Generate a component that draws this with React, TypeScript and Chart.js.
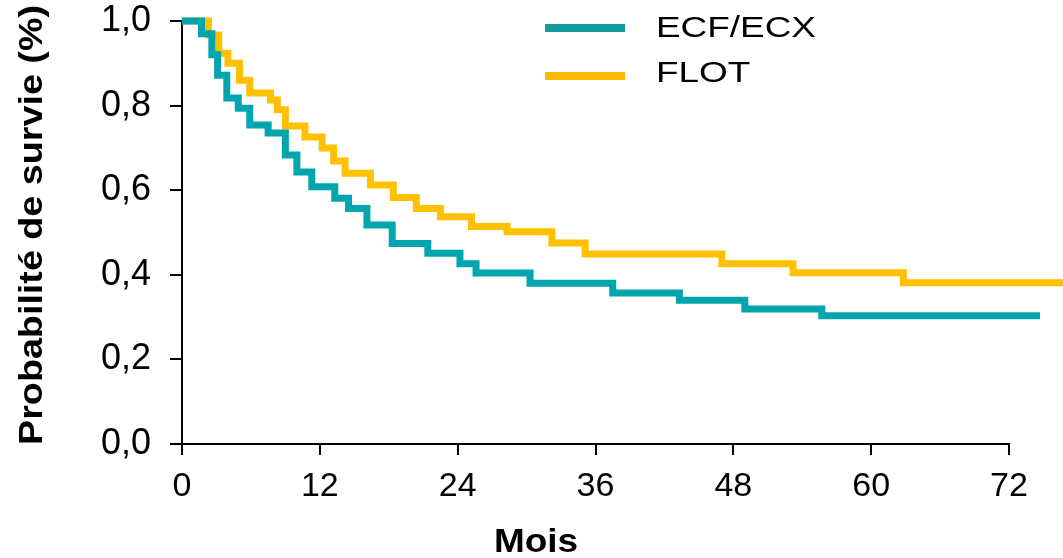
import React, { useEffect, useRef } from 'react';
import { Chart, registerables } from 'chart.js';

Chart.register(...registerables);

// ---- Data ----
const seriesNames = ['ECF/ECX', 'FLOT'];
const ecfMonths = [0, 1.7, 2.6, 3.1, 3.9, 4.9, 5.9, 7.5, 9.0, 10.0, 11.3, 13.3, 14.5, 16.1, 18.3, 21.4, 24.2, 25.6, 30.3, 37.5, 43.3, 49.0, 55.7, 74.7];
const ecfSurvival = [1.0, 0.97, 0.92, 0.872, 0.818, 0.794, 0.754, 0.735, 0.683, 0.643, 0.608, 0.581, 0.557, 0.518, 0.474, 0.451, 0.426, 0.404, 0.38, 0.357, 0.34, 0.319, 0.303, 0.303];
const flotMonths = [0, 2.3, 3.2, 4.0, 5.0, 5.9, 7.7, 8.3, 9.0, 10.7, 12.2, 13.2, 14.2, 16.4, 18.4, 20.4, 22.5, 25.2, 28.3, 32.2, 35.1, 47.0, 53.2, 62.8, 76.7];
const flotSurvival = [1.0, 0.967, 0.924, 0.9, 0.86, 0.83, 0.813, 0.79, 0.752, 0.726, 0.7, 0.669, 0.64, 0.612, 0.583, 0.557, 0.537, 0.514, 0.502, 0.475, 0.449, 0.426, 0.405, 0.381, 0.381];
const xTickValues = [0, 12, 24, 36, 48, 60, 72];
const yTickValues = [0, 0.2, 0.4, 0.6, 0.8, 1.0];
const xAxisTitle = 'Mois';
const yAxisTitle = 'Probabilité de survie (%)';

const TEAL = '#00A5AD';
const GOLD = '#FFC000';
const FONT = "'Liberation Sans', Arial, sans-serif";

function stretchedText(ctx: CanvasRenderingContext2D, text: string, x: number, y: number, font: string, sx: number, align: CanvasTextAlign, rot = 0) {
  ctx.save();
  ctx.translate(x, y);
  ctx.rotate(rot);
  ctx.scale(sx, 1);
  ctx.font = font;
  ctx.fillStyle = '#000';
  ctx.textAlign = align;
  ctx.textBaseline = 'alphabetic';
  ctx.fillText(text, 0, 0);
  ctx.restore();
}

const decorPlugin = {
  id: 'decor',
  beforeDatasetsDraw(chart: any) {
    const ctx = chart.ctx as CanvasRenderingContext2D;
    const xs = chart.scales.x;
    const ys = chart.scales.y;
    const y0 = ys.getPixelForValue(0);
    ctx.save();
    ctx.strokeStyle = '#000';
    ctx.lineWidth = 2;
    ctx.beginPath();
    ctx.moveTo(chart.chartArea.left - 1, y0);
    ctx.lineTo(xs.getPixelForValue(xTickValues[xTickValues.length - 1]) + 1, y0);
    ctx.stroke();
    ctx.restore();
  },
  afterDraw(chart: any) {
    const ctx = chart.ctx as CanvasRenderingContext2D;
    // axis titles
    stretchedText(ctx, xAxisTitle, 536, 552, `bold 33px ${FONT}`, 1.12, 'center');
    stretchedText(ctx, yAxisTitle, 42, 225, `bold 32.5px ${FONT}`, 1.16, 'center', -Math.PI / 2);
    // legend
    const items = [
      { name: seriesNames[0], color: '#129A9F', lineY: 28, textY: 37 },
      { name: seriesNames[1], color: '#FBB800', lineY: 76, textY: 82 },
    ];
    ctx.save();
    items.forEach((it) => {
      ctx.strokeStyle = it.color;
      ctx.lineWidth = 8;
      ctx.lineCap = 'butt';
      ctx.beginPath();
      ctx.moveTo(545, it.lineY);
      ctx.lineTo(625, it.lineY);
      ctx.stroke();
      stretchedText(ctx, it.name, 656, it.textY, `30px ${FONT}`, 1.23, 'left');
    });
    ctx.restore();
  },
};

export default function App() {
  const canvasRef = useRef<HTMLCanvasElement | null>(null);

  useEffect(() => {
    const canvas = canvasRef.current;
    if (!canvas) return;
    const toPoints = (xs: number[], ys: number[]) => xs.map((x, i) => ({ x, y: ys[i] }));
    const chart = new Chart(canvas, {
      type: 'line',
      data: {
        datasets: [
          {
            label: seriesNames[0],
            data: toPoints(ecfMonths, ecfSurvival),
            borderColor: TEAL,
            borderWidth: 7,
            pointRadius: 0,
            stepped: true,
            fill: false,
            clip: false,
          } as any,
          {
            label: seriesNames[1],
            data: toPoints(flotMonths, flotSurvival),
            borderColor: GOLD,
            borderWidth: 7,
            pointRadius: 0,
            stepped: true,
            fill: false,
            clip: false,
          } as any,
        ],
      },
      options: {
        responsive: false,
        animation: false,
        devicePixelRatio: 1,
        layout: { padding: 0 },
        plugins: {
          legend: { display: false },
          tooltip: { enabled: false },
        },
        scales: {
          x: {
            type: 'linear',
            min: 0,
            max: 76.7,
            afterBuildTicks: (scale: any) => {
              scale.ticks = xTickValues.map((v) => ({ value: v }));
            },
            afterFit: (scale: any) => {
              scale.height = 114;
              scale.paddingLeft = 0;
              scale.paddingRight = 0;
            },
            border: { display: false },
            grid: {
              display: true,
              drawOnChartArea: false,
              drawTicks: true,
              tickLength: 11,
              color: '#000',
              lineWidth: 2,
            },
            ticks: {
              color: '#000',
              padding: 11,
              font: { family: FONT, size: 34 },
              maxRotation: 0,
              autoSkip: false,
              callback: (v: any) => String(v),
            },
          },
          y: {
            type: 'linear',
            min: 0,
            max: 1,
            afterBuildTicks: (scale: any) => {
              scale.ticks = yTickValues.map((v) => ({ value: v }));
            },
            afterFit: (scale: any) => {
              scale.width = 182;
              scale.paddingTop = 21;
              scale.paddingBottom = 0;
            },
            border: { display: true, color: '#000', width: 2 },
            grid: {
              display: true,
              drawOnChartArea: false,
              drawTicks: true,
              tickLength: 12,
              color: '#000',
              lineWidth: 2,
            },
            ticks: {
              color: '#000',
              padding: 19,
              font: { family: FONT, size: 36 },
              autoSkip: false,
              callback: (v: any) => Number(v).toFixed(1).replace('.', ','),
            },
          },
        },
      } as any,
      plugins: [decorPlugin],
    });
    return () => chart.destroy();
  }, []);

  return (
    <div style={{ position: 'fixed', left: 0, top: 0, width: 1063, height: 558, background: '#fff' }}>
      <canvas ref={canvasRef} width={1063} height={558} style={{ display: 'block' }} />
    </div>
  );
}
